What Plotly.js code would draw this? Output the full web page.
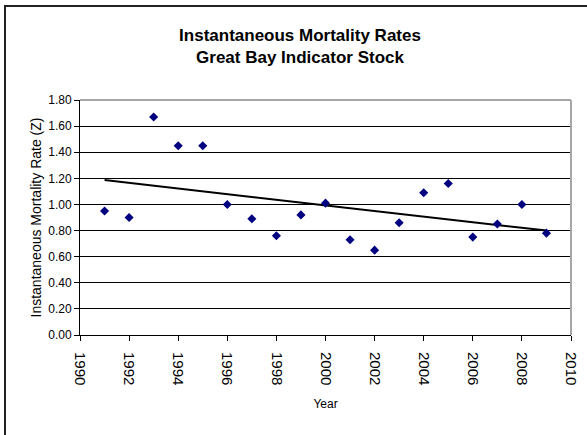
<!DOCTYPE html>
<html>
<head>
<meta charset="utf-8">
<script src="https://cdn.plot.ly/plotly-3.0.1.min.js"></script>
<style>
  html, body { margin: 0; padding: 0; background: #fff; }
  #wrap { position: relative; width: 587px; height: 435px; overflow: hidden; }
  #chart { width: 587px; height: 435px; }
  #frame { position: absolute; left: 4px; top: 5px; width: 700px; height: 600px;
           border-left: 2px solid #222; border-top: 2px solid #222; pointer-events: none; }
</style>
</head>
<body>
<div id="wrap">
  <div id="chart"></div>
  <div id="frame"></div>
</div>
<script>
// Data
const years = [1991, 1992, 1993, 1994, 1995, 1996, 1997, 1998, 1999, 2000,
               2001, 2002, 2003, 2004, 2005, 2006, 2007, 2008, 2009];
const zRates = [0.95, 0.90, 1.67, 1.45, 1.45, 1.00, 0.89, 0.76, 0.92, 1.01,
                0.73, 0.65, 0.86, 1.09, 1.16, 0.75, 0.85, 1.00, 0.78];
const xTickVals = [1990, 1992, 1994, 1996, 1998, 2000, 2002, 2004, 2006, 2008, 2010];
const yTickVals = [0, 0.2, 0.4, 0.6, 0.8, 1.0, 1.2, 1.4, 1.6, 1.8];
const titleText = 'Instantaneous Mortality Rates<br>Great Bay Indicator Stock';
const xTitle = 'Year';
const yTitle = 'Instantaneous Mortality Rate (Z)';

// Linear (least-squares) trendline, as Excel computes it
const n = years.length;
const mx = years.reduce((a, b) => a + b, 0) / n;
const my = zRates.reduce((a, b) => a + b, 0) / n;
let sxy = 0, sxx = 0;
for (let i = 0; i < n; i++) { sxy += (years[i] - mx) * (zRates[i] - my); sxx += (years[i] - mx) ** 2; }
const slope = sxy / sxx, intercept = my - slope * mx;
const trendX = [years[0], years[n - 1]];
const trendY = trendX.map(x => intercept + slope * x);

const font = 'Liberation Sans, Arial, sans-serif';

const traces = [
  { x: trendX, y: trendY, mode: 'lines', type: 'scatter',
    line: { color: '#000', width: 2 }, hoverinfo: 'skip' },
  { x: years, y: zRates, mode: 'markers', type: 'scatter',
    marker: { symbol: 'diamond', size: 7, color: '#000080' } }
];

const layout = {
  width: 587, height: 435,
  margin: { l: 80, r: 16, t: 100, b: 100 },
  paper_bgcolor: 'rgba(0,0,0,0)', plot_bgcolor: '#fff',
  showlegend: false,
  font: { family: font, color: '#000', size: 12 },
  title: { text: titleText, font: { family: font, size: 17, color: '#000', weight: 'bold' },
           x: 300 / 587, xref: 'container', xanchor: 'center',
           y: 1 - 41 / 435, yref: 'container', yanchor: 'middle' },
  xaxis: {
    range: [1990, 2010], tickvals: xTickVals, ticktext: xTickVals.map(String),
    tickangle: 90, tickfont: { size: 15 }, ticks: 'outside', ticklen: 5, tickcolor: '#000',
    ticklabelstandoff: 8,
    showline: true, linecolor: '#000', linewidth: 1, showgrid: false, zeroline: false,
    title: { text: xTitle, font: { size: 12 }, standoff: 15 }
  },
  yaxis: {
    range: [0, 1.8], tickvals: yTickVals, ticktext: yTickVals.map(v => v.toFixed(2)),
    tickfont: { size: 12 }, ticks: 'outside', ticklen: 5, tickcolor: '#000',
    showline: true, linecolor: '#000', linewidth: 1,
    showgrid: true, gridcolor: '#000', gridwidth: 1, zeroline: false,
    title: { text: yTitle, font: { size: 14 }, standoff: 3 }
  },
  shapes: [
    { type: 'line', xref: 'paper', yref: 'paper', x0: 0, x1: 1, y0: 1, y1: 1,
      line: { color: '#a6a6a6', width: 2 } },
    { type: 'line', xref: 'paper', yref: 'paper', x0: 1, x1: 1, y0: 0, y1: 1,
      line: { color: '#a6a6a6', width: 2 } }
  ]
};

Plotly.newPlot('chart', traces, layout, { displayModeBar: false, staticPlot: true });
</script>
</body>
</html>
